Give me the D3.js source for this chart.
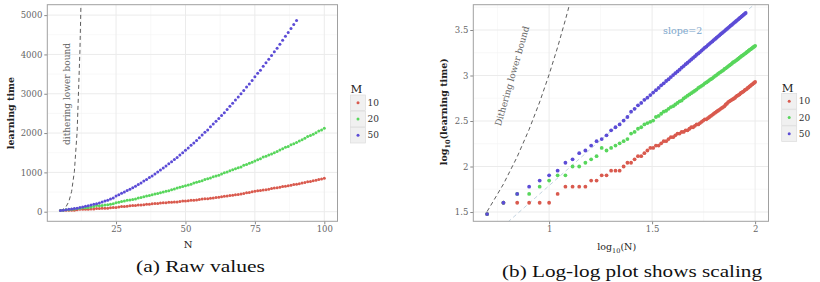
<!DOCTYPE html>
<html><head><meta charset="utf-8">
<script src="https://cdn.jsdelivr.net/npm/d3@7"></script>
<style>
body{margin:0;background:#fff}
svg{display:block}
text{font-family:"DejaVu Serif",serif}
</style>
</head><body>
<svg id="c" width="820" height="282"></svg>
<script>
// ---------- data ----------
const nValues = [5,6,7,8,9,10,11,12,13,14,15,16,17,18,19,20,21,22,23,24,25,26,27,28,29,30,31,32,33,34,35,36,37,38,39,40,41,42,43,44,45,46,47,48,49,50,51,52,53,54,55,56,57,58,59,60,61,62,63,64,65,66,67,68,69,70,71,72,73,74,75,76,77,78,79,80,81,82,83,84,85,86,87,88,89,90,91,92,93,94,95,96,97,98,99,100];

const timeM10 = [30,40,40,40,40,40,50,60,60,60,60,70,70,80,80,90,90,90,100,110,110,120,130,130,140,150,160,160,170,170,180,190,190,200,210,210,220,230,230,240,240,250,250,260,270,270,280,290,290,300,310,320,330,330,340,350,360,370,380,390,400,410,420,430,440,450,460,480,490,510,520,530,540,550,560,570,590,600,610,620,640,650,660,670,690,700,710,730,740,760,770,790,800,820,830,850];

const timeM20 = [30,40,50,50,60,70,80,80,100,100,110,120,130,160,150,160,170,180,190,200,230,240,260,270,290,300,310,320,350,360,380,400,410,430,450,460,480,500,520,530,560,580,600,620,640,660,680,700,730,750,770,790,820,840,860,890,910,930,960,990,1010,1040,1070,1090,1120,1140,1180,1200,1230,1260,1290,1320,1350,1390,1410,1440,1470,1500,1530,1570,1600,1640,1660,1700,1730,1760,1800,1830,1870,1910,1940,1970,2010,2050,2080,2120];

const timeM50 = [30,40,50,60,70,80,90,110,120,140,150,170,190,200,220,250,270,290,320,350,400,430,470,500,540,570,610,650,690,730,780,820,870,910,960,1010,1060,1110,1160,1220,1270,1330,1380,1440,1500,1560,1620,1690,1750,1810,1880,1950,2020,2080,2160,2230,2300,2370,2450,2520,2600,2680,2760,2840,2920,3000,3080,3170,3250,3340,3430,3520,3600,3700,3790,3880,3970,4070,4160,4260,4360,4460,4560,4660,4760,4860];

const seriesNames = ["10","20","50"];
const seriesColors = ["#d95a4e","#58d65c","#5c4cd6"];

const ditherN = [5,6,7,8,9,10,11,12,12.34,13];
const ditherTime = [32,64,128,256,512,1024,2048,4096,5184,8192];

const slopeLogN = [0.80,2.00];
const slopeLogTime = [1.39,3.79];

const rawXTicks = [25,50,75,100];
const rawYTicks = [0,1000,2000,3000,4000,5000];
const logXTicks = [1,1.5,2];
const logYTicks = [1.5,2,2.5,3,3.5];
const logXTickLabels = ["1","1.5","2"];
const logYTickLabels = ["1.5","2","2.5","3","3.5"];

// ---------- build series ----------
const allSeries = [timeM10,timeM20,timeM50].map((vals,i)=>({
  name: seriesNames[i], color: seriesColors[i],
  pts: vals.map((v,j)=>({n:nValues[j], t:v}))
}));
const dither = ditherN.map((n,i)=>({n, t:ditherTime[i]}));

const svg = d3.select("#c");

function panel(cfg){
  const g = svg.append("g");
  const x = d3.scaleLinear().domain(cfg.xDom).range([cfg.left,cfg.right]);
  const y = d3.scaleLinear().domain(cfg.yDom).range([cfg.bottom,cfg.top]);
  const clipId = "clip"+cfg.id;
  svg.append("clipPath").attr("id",clipId).append("rect")
    .attr("x",cfg.left).attr("y",cfg.top)
    .attr("width",cfg.right-cfg.left).attr("height",cfg.bottom-cfg.top);

  // minor grid
  const mx = cfg.xTicks.map((t,i)=> i>0 ? (t+cfg.xTicks[i-1])/2 : t-(cfg.xTicks[1]-cfg.xTicks[0])/2)
    .concat([cfg.xTicks[cfg.xTicks.length-1]+(cfg.xTicks[1]-cfg.xTicks[0])/2]);
  const my = cfg.yTicks.map((t,i)=> i>0 ? (t+cfg.yTicks[i-1])/2 : t-(cfg.yTicks[1]-cfg.yTicks[0])/2)
    .concat([cfg.yTicks[cfg.yTicks.length-1]+(cfg.yTicks[1]-cfg.yTicks[0])/2]);
  const grid = g.append("g").attr("clip-path",`url(#${clipId})`);
  mx.forEach(v=>grid.append("line").attr("x1",x(v)).attr("x2",x(v)).attr("y1",cfg.top).attr("y2",cfg.bottom).attr("stroke","#f4f4f4").attr("stroke-width",0.6));
  my.forEach(v=>grid.append("line").attr("y1",y(v)).attr("y2",y(v)).attr("x1",cfg.left).attr("x2",cfg.right).attr("stroke","#f4f4f4").attr("stroke-width",0.6));
  cfg.xTicks.forEach(v=>grid.append("line").attr("x1",x(v)).attr("x2",x(v)).attr("y1",cfg.top).attr("y2",cfg.bottom).attr("stroke","#ebebeb").attr("stroke-width",1));
  cfg.yTicks.forEach(v=>grid.append("line").attr("y1",y(v)).attr("y2",y(v)).attr("x1",cfg.left).attr("x2",cfg.right).attr("stroke","#ebebeb").attr("stroke-width",1));

  // axes
  const xa = g.append("g").attr("transform",`translate(0,${cfg.bottom})`)
    .call(d3.axisBottom(x).tickValues(cfg.xTicks).tickFormat((d,i)=>cfg.xLabels[i]).tickSize(3).tickPadding(2));
  const ya = g.append("g").attr("transform",`translate(${cfg.left},0)`)
    .call(d3.axisLeft(y).tickValues(cfg.yTicks).tickFormat((d,i)=>cfg.yLabels[i]).tickSize(3).tickPadding(2));
  [xa,ya].forEach(a=>{
    a.select(".domain").remove();
    a.selectAll(".tick line").attr("stroke","#888");
    a.selectAll(".tick text").attr("fill","#666").style("font-size","8.5px").style("font-family","'DejaVu Serif',serif");
  });

  const body = g.append("g").attr("clip-path",`url(#${clipId})`);
  // extra lines
  if(cfg.extra) cfg.extra(body,x,y);
  // dither line
  const dpts = cfg.ditherFilter ? dither.filter(cfg.ditherFilter) : dither;
  body.append("path").datum(dpts)
    .attr("d", d3.line().x(d=>x(cfg.fx(d.n))).y(d=>y(cfg.fy(d.t))))
    .attr("fill","none").attr("stroke","#333").attr("stroke-width",0.8).attr("stroke-dasharray","4,3");

  // points
  allSeries.forEach(s=>{
    body.selectAll(null).data(s.pts).enter().append("circle")
      .attr("cx",d=>x(cfg.fx(d.n))).attr("cy",d=>y(cfg.fy(d.t)))
      .attr("r",cfg.r).attr("fill",s.color);
  });

  // border
  g.append("rect").attr("x",cfg.left).attr("y",cfg.top)
    .attr("width",cfg.right-cfg.left).attr("height",cfg.bottom-cfg.top)
    .attr("fill","none").attr("stroke","#a0a0a0").attr("stroke-width",1);

  // legend
  const lg = g.append("g");
  lg.append("text").attr("x",cfg.legX).attr("y",cfg.legY).attr("dy","0.35em")
    .style("font-size","11.5px").attr("fill","#222").text("M");
  allSeries.forEach((s,i)=>{
    const ky = cfg.legY+6+i*16.2;
    lg.append("rect").attr("x",cfg.legX).attr("y",ky).attr("width",15).attr("height",15.6)
      .attr("fill","#f0f0f0").attr("stroke","#dcdcdc").attr("stroke-width",0.7);
    lg.append("circle").attr("cx",cfg.legX+7.5).attr("cy",ky+7.8).attr("r",1.5).attr("fill",s.color);
    lg.append("text").attr("x",cfg.legX+17).attr("y",ky+7.8).attr("dy","0.35em")
      .style("font-size","9px").attr("fill","#333").text(s.name);
  });
  return {g,x,y};
}

// ---------- panel (a) ----------
const pa = panel({
  id:"a", left:47.3, right:337.5, top:4.7, bottom:221.3,
  xDom:[0.25,104.75], yDom:[-244,5265],
  xTicks:rawXTicks, yTicks:rawYTicks,
  xLabels:rawXTicks.map(String), yLabels:rawYTicks.map(String),
  fx:n=>n, fy:t=>t, r:1.5,
  ditherFilter:d=>d.t<=5200,
  legX:350.5, legY:89
});
pa.g.append("text").attr("transform","translate(67,94) rotate(-90)")
  .attr("text-anchor","middle").attr("dy","0.35em").style("font-size","9px").attr("fill","#666")
  .text("dithering lower bound");
pa.g.append("text").attr("transform","translate(14,113) rotate(-90)")
  .attr("text-anchor","middle").style("font-size","9.5px").style("font-weight","bold").attr("fill","#222")
  .text("learning time");
pa.g.append("text").attr("x",188).attr("y",244.3).attr("dy","0.35em")
  .attr("text-anchor","middle").style("font-size","10px").attr("fill","#222").text("N");
svg.append("text").attr("x",200.5).attr("y",271.5).attr("text-anchor","middle")
  .style("font-family","'Liberation Serif',serif").style("font-size","17.5px").attr("fill","#111")
  .attr("textLength",129).attr("lengthAdjust","spacingAndGlyphs").text("(a) Raw values");

// ---------- panel (b) ----------
const pb = panel({
  id:"b", left:473.3, right:768.5, top:4.7, bottom:221.3,
  xDom:[0.632,2.065], yDom:[1.398,3.778],
  xTicks:logXTicks, yTicks:logYTicks,
  xLabels:logXTickLabels, yLabels:logYTickLabels,
  fx:n=>Math.log10(n), fy:t=>Math.log10(t), r:1.9,
  legX:781.7, legY:87.5,
  extra:(body,x,y)=>{
    body.append("path").datum(slopeLogN.map((v,i)=>[v,slopeLogTime[i]]))
      .attr("d",d3.line().x(d=>x(d[0])).y(d=>y(d[1])))
      .attr("fill","none").attr("stroke","#b4c9d8").attr("stroke-width",0.8).attr("stroke-dasharray","4,3");
  }
});
pb.g.append("text").attr("transform","translate(512,76) rotate(-74)")
  .attr("text-anchor","middle").attr("dy","0.35em").style("font-size","9px").attr("fill","#666")
  .text("Dithering lower bound");
pb.g.append("text").attr("x",682.7).attr("y",30.3).attr("dy","0.35em").attr("text-anchor","middle")
  .style("font-size","9.5px").attr("fill","#7ba6cc").text("slope=2");
const yt = pb.g.append("text").attr("transform","translate(447,111.7) rotate(-90)")
  .attr("text-anchor","middle").style("font-size","9.5px").style("font-weight","bold").attr("fill","#222");
yt.append("tspan").text("log");
yt.append("tspan").attr("dy","2.5").style("font-size","6.5px").text("10");
yt.append("tspan").attr("dy","-2.5").text("(learning time)");
const xt = pb.g.append("text").attr("x",616.7).attr("y",250)
  .attr("text-anchor","middle").style("font-size","9.5px").attr("fill","#222");
xt.append("tspan").text("log");
xt.append("tspan").attr("dy","2.5").style("font-size","6.5px").text("10");
xt.append("tspan").attr("dy","-2.5").text("(N)");
svg.append("text").attr("x",632).attr("y",276.5).attr("text-anchor","middle")
  .style("font-family","'Liberation Serif',serif").style("font-size","17.5px").attr("fill","#111")
  .attr("textLength",260).attr("lengthAdjust","spacingAndGlyphs").text("(b) Log-log plot shows scaling");
</script>
</body></html>
